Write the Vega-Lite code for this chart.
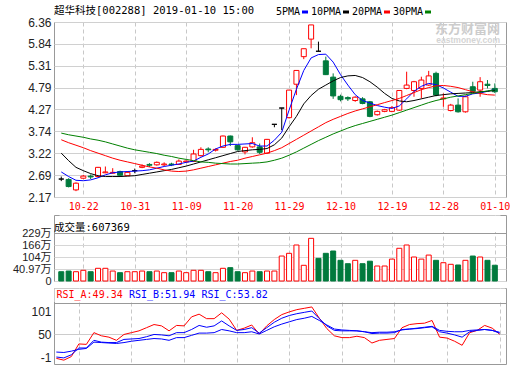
{
  "$schema": "https://vega.github.io/schema/vega-lite/v6.json",
  "padding": {"left": 11, "top": 5, "right": 0, "bottom": 0},
  "background": "white",
  "config": {
    "view": {"stroke": "#999999", "strokeWidth": 1},
    "axis": {"ticks": false, "domain": false, "labelFont": "Liberation Sans", "labelFontSize": 12, "labelColor": "#222222", "gridColor": "#d0d0d0", "gridWidth": 1, "labelOverlap": false, "labelFlush": false},
    "title": {"font": "DejaVu Sans Mono, Noto Sans CJK SC", "fontSize": 10.5, "fontWeight": "normal", "color": "#000000"}
  },
  "datasets": {
    "kline": [
      {"i":1,"d":"10-17","o":2.60,"h":2.66,"l":2.55,"c":2.60,"dir":"flat","vol":31.7,"vd":"down"},
      {"i":2,"d":"10-18","o":2.59,"h":2.62,"l":2.40,"c":2.42,"dir":"down","vol":34.0,"vd":"down"},
      {"i":3,"d":"10-19","o":2.34,"h":2.52,"l":2.31,"c":2.50,"dir":"up","vol":31.7,"vd":"up"},
      {"i":4,"d":"10-22","o":2.62,"h":2.70,"l":2.61,"c":2.67,"dir":"up","vol":36.5,"vd":"up"},
      {"i":5,"d":"10-23","o":2.67,"h":2.71,"l":2.60,"c":2.65,"dir":"down","vol":31.7,"vd":"down"},
      {"i":6,"d":"10-24","o":2.66,"h":2.89,"l":2.64,"c":2.88,"dir":"up","vol":44.6,"vd":"up"},
      {"i":7,"d":"10-25","o":2.75,"h":2.90,"l":2.74,"c":2.77,"dir":"up","vol":44.6,"vd":"up"},
      {"i":8,"d":"10-26","o":2.74,"h":2.86,"l":2.73,"c":2.76,"dir":"up","vol":34.0,"vd":"up"},
      {"i":9,"d":"10-29","o":2.78,"h":2.80,"l":2.67,"c":2.69,"dir":"down","vol":28.4,"vd":"down"},
      {"i":10,"d":"10-30","o":2.68,"h":2.79,"l":2.67,"c":2.76,"dir":"up","vol":31.7,"vd":"up"},
      {"i":11,"d":"10-31","o":2.80,"h":2.85,"l":2.74,"c":2.80,"dir":"flat","vol":31.7,"vd":"up"},
      {"i":12,"d":"11-01","o":2.88,"h":2.95,"l":2.86,"c":2.91,"dir":"up","vol":34.0,"vd":"up"},
      {"i":13,"d":"11-02","o":2.95,"h":2.98,"l":2.89,"c":2.93,"dir":"down","vol":31.7,"vd":"down"},
      {"i":14,"d":"11-05","o":2.94,"h":3.02,"l":2.92,"c":3.00,"dir":"up","vol":34.0,"vd":"up"},
      {"i":15,"d":"11-06","o":2.94,"h":3.00,"l":2.91,"c":2.96,"dir":"up","vol":28.4,"vd":"up"},
      {"i":16,"d":"11-07","o":2.96,"h":2.99,"l":2.91,"c":2.94,"dir":"down","vol":28.4,"vd":"down"},
      {"i":17,"d":"11-08","o":2.95,"h":3.07,"l":2.94,"c":3.03,"dir":"up","vol":34.0,"vd":"up"},
      {"i":18,"d":"11-09","o":3.01,"h":3.05,"l":2.99,"c":3.03,"dir":"up","vol":28.4,"vd":"up"},
      {"i":19,"d":"11-12","o":3.02,"h":3.30,"l":3.01,"c":3.20,"dir":"up","vol":36.5,"vd":"up"},
      {"i":20,"d":"11-13","o":3.16,"h":3.36,"l":3.14,"c":3.31,"dir":"up","vol":36.5,"vd":"up"},
      {"i":21,"d":"11-14","o":3.32,"h":3.36,"l":3.24,"c":3.30,"dir":"down","vol":31.7,"vd":"down"},
      {"i":22,"d":"11-15","o":3.29,"h":3.33,"l":3.26,"c":3.31,"dir":"up","vol":28.4,"vd":"up"},
      {"i":23,"d":"11-16","o":3.36,"h":3.64,"l":3.35,"c":3.63,"dir":"up","vol":44.6,"vd":"up"},
      {"i":24,"d":"11-19","o":3.63,"h":3.64,"l":3.39,"c":3.49,"dir":"down","vol":48.0,"vd":"down"},
      {"i":25,"d":"11-20","o":3.40,"h":3.42,"l":3.28,"c":3.30,"dir":"down","vol":31.7,"vd":"down"},
      {"i":26,"d":"11-21","o":3.25,"h":3.37,"l":3.19,"c":3.36,"dir":"up","vol":28.4,"vd":"up"},
      {"i":27,"d":"11-22","o":3.37,"h":3.60,"l":3.35,"c":3.47,"dir":"up","vol":34.0,"vd":"up"},
      {"i":28,"d":"11-23","o":3.37,"h":3.45,"l":3.20,"c":3.24,"dir":"down","vol":31.7,"vd":"down"},
      {"i":29,"d":"11-26","o":3.22,"h":3.56,"l":3.20,"c":3.55,"dir":"up","vol":34.0,"vd":"up"},
      {"i":30,"d":"11-27","o":3.91,"h":3.91,"l":3.84,"c":3.91,"dir":"flat","vol":34.0,"vd":"up"},
      {"i":31,"d":"11-28","o":4.30,"h":4.30,"l":3.77,"c":4.30,"dir":"flat","vol":109,"vd":"up"},
      {"i":32,"d":"11-29","o":4.07,"h":4.73,"l":4.05,"c":4.73,"dir":"up","vol":123,"vd":"up"},
      {"i":33,"d":"11-30","o":4.87,"h":5.20,"l":4.61,"c":5.20,"dir":"up","vol":166,"vd":"up"},
      {"i":34,"d":"12-03","o":5.53,"h":5.72,"l":5.47,"c":5.72,"dir":"up","vol":60.4,"vd":"up"},
      {"i":35,"d":"12-04","o":5.95,"h":6.29,"l":5.73,"c":6.29,"dir":"up","vol":201,"vd":"up"},
      {"i":36,"d":"12-05","o":5.66,"h":5.89,"l":5.66,"c":5.66,"dir":"flat","vol":97,"vd":"down"},
      {"i":37,"d":"12-06","o":5.43,"h":5.53,"l":5.09,"c":5.10,"dir":"down","vol":123,"vd":"down"},
      {"i":38,"d":"12-07","o":5.04,"h":5.13,"l":4.52,"c":4.59,"dir":"down","vol":135,"vd":"down"},
      {"i":39,"d":"12-10","o":4.58,"h":4.62,"l":4.46,"c":4.50,"dir":"down","vol":86.6,"vd":"down"},
      {"i":40,"d":"12-11","o":4.55,"h":4.58,"l":4.47,"c":4.52,"dir":"down","vol":68.8,"vd":"down"},
      {"i":41,"d":"12-12","o":4.48,"h":4.58,"l":4.45,"c":4.56,"dir":"up","vol":86.6,"vd":"up"},
      {"i":42,"d":"12-13","o":4.52,"h":4.56,"l":4.39,"c":4.41,"dir":"down","vol":68.8,"vd":"down"},
      {"i":43,"d":"12-14","o":4.45,"h":4.47,"l":4.08,"c":4.10,"dir":"down","vol":82,"vd":"down"},
      {"i":44,"d":"12-17","o":4.14,"h":4.24,"l":4.12,"c":4.22,"dir":"up","vol":56.7,"vd":"up"},
      {"i":45,"d":"12-18","o":4.22,"h":4.28,"l":4.20,"c":4.26,"dir":"up","vol":56.7,"vd":"up"},
      {"i":46,"d":"12-19","o":4.22,"h":4.35,"l":4.20,"c":4.31,"dir":"up","vol":93,"vd":"up"},
      {"i":47,"d":"12-20","o":4.25,"h":4.73,"l":4.23,"c":4.72,"dir":"up","vol":149,"vd":"up"},
      {"i":48,"d":"12-21","o":4.77,"h":5.17,"l":4.75,"c":4.85,"dir":"up","vol":166,"vd":"up"},
      {"i":49,"d":"12-24","o":4.72,"h":4.95,"l":4.57,"c":4.93,"dir":"up","vol":104,"vd":"up"},
      {"i":50,"d":"12-25","o":4.77,"h":5.05,"l":4.53,"c":4.97,"dir":"up","vol":93,"vd":"up"},
      {"i":51,"d":"12-26","o":4.85,"h":5.19,"l":4.83,"c":5.07,"dir":"up","vol":114,"vd":"up"},
      {"i":52,"d":"12-27","o":5.13,"h":5.17,"l":4.58,"c":4.61,"dir":"down","vol":86.6,"vd":"down"},
      {"i":53,"d":"12-28","o":4.52,"h":4.65,"l":4.33,"c":4.54,"dir":"up","vol":74,"vd":"up"},
      {"i":54,"d":"01-02","o":4.24,"h":4.40,"l":4.22,"c":4.37,"dir":"up","vol":65.6,"vd":"up"},
      {"i":55,"d":"01-03","o":4.37,"h":4.53,"l":4.19,"c":4.21,"dir":"down","vol":62,"vd":"down"},
      {"i":56,"d":"01-04","o":4.21,"h":4.60,"l":4.19,"c":4.57,"dir":"up","vol":86.6,"vd":"up"},
      {"i":57,"d":"01-07","o":4.81,"h":4.93,"l":4.68,"c":4.70,"dir":"down","vol":109,"vd":"down"},
      {"i":58,"d":"01-08","o":4.73,"h":5.04,"l":4.57,"c":4.93,"dir":"up","vol":104,"vd":"up"},
      {"i":59,"d":"01-09","o":4.87,"h":4.97,"l":4.77,"c":4.84,"dir":"down","vol":86.6,"vd":"down"},
      {"i":60,"d":"01-10","o":4.77,"h":4.89,"l":4.66,"c":4.69,"dir":"down","vol":60.7,"vd":"down"}
    ],
    "ma": [
      {"i":1,"5PMA":2.77,"10PMA":3.22,"20PMA":3.54,"30PMA":3.70},
      {"i":2,"5PMA":2.66,"10PMA":3.04,"20PMA":3.47,"30PMA":3.66},
      {"i":3,"5PMA":2.57,"10PMA":2.88,"20PMA":3.41,"30PMA":3.63},
      {"i":4,"5PMA":2.56,"10PMA":2.80,"20PMA":3.35,"30PMA":3.60},
      {"i":5,"5PMA":2.58,"10PMA":2.73,"20PMA":3.28,"30PMA":3.56},
      {"i":6,"5PMA":2.63,"10PMA":2.68,"20PMA":3.22,"30PMA":3.53},
      {"i":7,"5PMA":2.70,"10PMA":2.66,"20PMA":3.16,"30PMA":3.49},
      {"i":8,"5PMA":2.75,"10PMA":2.66,"20PMA":3.10,"30PMA":3.44},
      {"i":9,"5PMA":2.77,"10PMA":2.66,"20PMA":3.05,"30PMA":3.39},
      {"i":10,"5PMA":2.78,"10PMA":2.67,"20PMA":3.01,"30PMA":3.34},
      {"i":11,"5PMA":2.79,"10PMA":2.68,"20PMA":2.97,"30PMA":3.30},
      {"i":12,"5PMA":2.80,"10PMA":2.71,"20PMA":2.93,"30PMA":3.27},
      {"i":13,"5PMA":2.82,"10PMA":2.74,"20PMA":2.89,"30PMA":3.24},
      {"i":14,"5PMA":2.86,"10PMA":2.77,"20PMA":2.86,"30PMA":3.21},
      {"i":15,"5PMA":2.90,"10PMA":2.80,"20PMA":2.82,"30PMA":3.17},
      {"i":16,"5PMA":2.93,"10PMA":2.83,"20PMA":2.79,"30PMA":3.14},
      {"i":17,"5PMA":2.96,"10PMA":2.87,"20PMA":2.78,"30PMA":3.10},
      {"i":18,"5PMA":3.00,"10PMA":2.91,"20PMA":2.79,"30PMA":3.07},
      {"i":19,"5PMA":3.03,"10PMA":2.96,"20PMA":2.82,"30PMA":3.04},
      {"i":20,"5PMA":3.12,"10PMA":3.01,"20PMA":2.86,"30PMA":3.01},
      {"i":21,"5PMA":3.20,"10PMA":3.06,"20PMA":2.90,"30PMA":3.00},
      {"i":22,"5PMA":3.32,"10PMA":3.11,"20PMA":2.94,"30PMA":2.98},
      {"i":23,"5PMA":3.39,"10PMA":3.16,"20PMA":2.98,"30PMA":2.97},
      {"i":24,"5PMA":3.43,"10PMA":3.21,"20PMA":3.02,"30PMA":2.96},
      {"i":25,"5PMA":3.43,"10PMA":3.26,"20PMA":3.05,"30PMA":2.96},
      {"i":26,"5PMA":3.44,"10PMA":3.28,"20PMA":3.10,"30PMA":2.97},
      {"i":27,"5PMA":3.45,"10PMA":3.30,"20PMA":3.14,"30PMA":2.98},
      {"i":28,"5PMA":3.39,"10PMA":3.31,"20PMA":3.18,"30PMA":2.99},
      {"i":29,"5PMA":3.39,"10PMA":3.33,"20PMA":3.22,"30PMA":3.01},
      {"i":30,"5PMA":3.53,"10PMA":3.42,"20PMA":3.28,"30PMA":3.05},
      {"i":31,"5PMA":3.72,"10PMA":3.58,"20PMA":3.35,"30PMA":3.10},
      {"i":32,"5PMA":4.25,"10PMA":3.85,"20PMA":3.45,"30PMA":3.17},
      {"i":33,"5PMA":4.75,"10PMA":4.10,"20PMA":3.55,"30PMA":3.25},
      {"i":34,"5PMA":5.20,"10PMA":4.40,"20PMA":3.65,"30PMA":3.34},
      {"i":35,"5PMA":5.50,"10PMA":4.60,"20PMA":3.75,"30PMA":3.43},
      {"i":36,"5PMA":5.58,"10PMA":4.75,"20PMA":3.85,"30PMA":3.52},
      {"i":37,"5PMA":5.59,"10PMA":4.85,"20PMA":3.95,"30PMA":3.60},
      {"i":38,"5PMA":5.40,"10PMA":4.95,"20PMA":4.03,"30PMA":3.68},
      {"i":39,"5PMA":5.10,"10PMA":5.03,"20PMA":4.10,"30PMA":3.75},
      {"i":40,"5PMA":4.85,"10PMA":5.07,"20PMA":4.17,"30PMA":3.82},
      {"i":41,"5PMA":4.62,"10PMA":5.08,"20PMA":4.23,"30PMA":3.88},
      {"i":42,"5PMA":4.48,"10PMA":5.03,"20PMA":4.28,"30PMA":3.93},
      {"i":43,"5PMA":4.42,"10PMA":4.93,"20PMA":4.33,"30PMA":3.98},
      {"i":44,"5PMA":4.36,"10PMA":4.80,"20PMA":4.38,"30PMA":4.03},
      {"i":45,"5PMA":4.32,"10PMA":4.65,"20PMA":4.43,"30PMA":4.08},
      {"i":46,"5PMA":4.29,"10PMA":4.53,"20PMA":4.48,"30PMA":4.13},
      {"i":47,"5PMA":4.35,"10PMA":4.47,"20PMA":4.53,"30PMA":4.19},
      {"i":48,"5PMA":4.52,"10PMA":4.45,"20PMA":4.60,"30PMA":4.25},
      {"i":49,"5PMA":4.70,"10PMA":4.48,"20PMA":4.67,"30PMA":4.31},
      {"i":50,"5PMA":4.82,"10PMA":4.52,"20PMA":4.74,"30PMA":4.37},
      {"i":51,"5PMA":4.89,"10PMA":4.56,"20PMA":4.79,"30PMA":4.43},
      {"i":52,"5PMA":4.86,"10PMA":4.60,"20PMA":4.83,"30PMA":4.48},
      {"i":53,"5PMA":4.78,"10PMA":4.62,"20PMA":4.84,"30PMA":4.52},
      {"i":54,"5PMA":4.68,"10PMA":4.64,"20PMA":4.82,"30PMA":4.56},
      {"i":55,"5PMA":4.58,"10PMA":4.65,"20PMA":4.79,"30PMA":4.59},
      {"i":56,"5PMA":4.58,"10PMA":4.66,"20PMA":4.74,"30PMA":4.62},
      {"i":57,"5PMA":4.64,"10PMA":4.67,"20PMA":4.69,"30PMA":4.65},
      {"i":58,"5PMA":4.66,"10PMA":4.69,"20PMA":4.65,"30PMA":4.68},
      {"i":59,"5PMA":4.70,"10PMA":4.70,"20PMA":4.62,"30PMA":4.71},
      {"i":60,"5PMA":4.75,"10PMA":4.72,"20PMA":4.61,"30PMA":4.74}
    ],
    "rsi": [
      {"i":1,"RSI_A":-4,"RSI_B":-1,"RSI_C":10},
      {"i":2,"RSI_A":-8,"RSI_B":-3,"RSI_C":9},
      {"i":3,"RSI_A":0,"RSI_B":4,"RSI_C":12},
      {"i":4,"RSI_A":28,"RSI_B":19,"RSI_C":16},
      {"i":5,"RSI_A":27,"RSI_B":19,"RSI_C":18},
      {"i":6,"RSI_A":53,"RSI_B":36,"RSI_C":32},
      {"i":7,"RSI_A":46,"RSI_B":32,"RSI_C":31},
      {"i":8,"RSI_A":43,"RSI_B":31,"RSI_C":30},
      {"i":9,"RSI_A":36,"RSI_B":31,"RSI_C":29},
      {"i":10,"RSI_A":49,"RSI_B":38,"RSI_C":31},
      {"i":11,"RSI_A":53,"RSI_B":39,"RSI_C":34},
      {"i":12,"RSI_A":57,"RSI_B":40,"RSI_C":36},
      {"i":13,"RSI_A":64,"RSI_B":44,"RSI_C":38},
      {"i":14,"RSI_A":71,"RSI_B":49,"RSI_C":40},
      {"i":15,"RSI_A":68,"RSI_B":48,"RSI_C":39},
      {"i":16,"RSI_A":57,"RSI_B":46,"RSI_C":36},
      {"i":17,"RSI_A":69,"RSI_B":53,"RSI_C":42},
      {"i":18,"RSI_A":68,"RSI_B":53,"RSI_C":42},
      {"i":19,"RSI_A":88,"RSI_B":60,"RSI_C":47},
      {"i":20,"RSI_A":94,"RSI_B":69,"RSI_C":52},
      {"i":21,"RSI_A":84,"RSI_B":65,"RSI_C":52},
      {"i":22,"RSI_A":84,"RSI_B":68,"RSI_C":53},
      {"i":23,"RSI_A":97,"RSI_B":79,"RSI_C":60},
      {"i":24,"RSI_A":83,"RSI_B":68,"RSI_C":57},
      {"i":25,"RSI_A":58,"RSI_B":58,"RSI_C":53},
      {"i":26,"RSI_A":63,"RSI_B":60,"RSI_C":53},
      {"i":27,"RSI_A":70,"RSI_B":64,"RSI_C":55},
      {"i":28,"RSI_A":50,"RSI_B":52,"RSI_C":50},
      {"i":29,"RSI_A":68,"RSI_B":64,"RSI_C":58},
      {"i":30,"RSI_A":82,"RSI_B":76,"RSI_C":66},
      {"i":31,"RSI_A":93,"RSI_B":85,"RSI_C":72},
      {"i":32,"RSI_A":99,"RSI_B":91,"RSI_C":77},
      {"i":33,"RSI_A":104,"RSI_B":95,"RSI_C":82},
      {"i":34,"RSI_A":107,"RSI_B":98,"RSI_C":85},
      {"i":35,"RSI_A":110,"RSI_B":101,"RSI_C":89},
      {"i":36,"RSI_A":85,"RSI_B":84,"RSI_C":80},
      {"i":37,"RSI_A":62,"RSI_B":68,"RSI_C":70},
      {"i":38,"RSI_A":46,"RSI_B":58,"RSI_C":61},
      {"i":39,"RSI_A":42,"RSI_B":57,"RSI_C":59},
      {"i":40,"RSI_A":42,"RSI_B":57,"RSI_C":58},
      {"i":41,"RSI_A":45,"RSI_B":57,"RSI_C":57},
      {"i":42,"RSI_A":42,"RSI_B":55,"RSI_C":55},
      {"i":43,"RSI_A":30,"RSI_B":51,"RSI_C":53},
      {"i":44,"RSI_A":36,"RSI_B":52,"RSI_C":54},
      {"i":45,"RSI_A":38,"RSI_B":52,"RSI_C":54},
      {"i":46,"RSI_A":40,"RSI_B":53,"RSI_C":55},
      {"i":47,"RSI_A":64,"RSI_B":60,"RSI_C":59},
      {"i":48,"RSI_A":71,"RSI_B":61,"RSI_C":61},
      {"i":49,"RSI_A":73,"RSI_B":62,"RSI_C":63},
      {"i":50,"RSI_A":74,"RSI_B":64,"RSI_C":65},
      {"i":51,"RSI_A":80,"RSI_B":66,"RSI_C":67},
      {"i":52,"RSI_A":43,"RSI_B":55,"RSI_C":58},
      {"i":53,"RSI_A":41,"RSI_B":52,"RSI_C":56},
      {"i":54,"RSI_A":34,"RSI_B":48,"RSI_C":55},
      {"i":55,"RSI_A":25,"RSI_B":43,"RSI_C":55},
      {"i":56,"RSI_A":53,"RSI_B":55,"RSI_C":58},
      {"i":57,"RSI_A":58,"RSI_B":58,"RSI_C":59},
      {"i":58,"RSI_A":69,"RSI_B":60,"RSI_C":60},
      {"i":59,"RSI_A":63,"RSI_B":58,"RSI_C":58},
      {"i":60,"RSI_A":49.34,"RSI_B":51.94,"RSI_C":53.82}
    ]
  },
  "spacing": 2,
  "resolve": {"scale": {"color": "independent", "x": "independent", "y": "independent"}, "legend": {"color": "independent"}},
  "vconcat": [
    {
      "width": 452,
      "height": 175,
      "title": {"text": "超华科技[002288] 2019-01-10 15:00", "anchor": "start", "frame": "group", "baseline": "alphabetic", "offset": -17},
      "layer": [
        {
          "data": {"name": "kline"},
          "mark": {"type": "rule", "strokeWidth": 1},
          "encoding": {
            "x": {"field": "i", "type": "quantitative", "scale": {"domain": [0.69, 60.84], "nice": false, "zero": false},
                  "axis": {"title": null, "values": [4, 11, 18, 25, 32, 39, 46, 53, 60], "tickCount": 60, "labelExpr": "['10-22','10-31','11-09','11-20','11-29','12-10','12-19','12-28','01-10'][(datum.value-4)/7]", "labelFont": "DejaVu Sans Mono", "labelFontSize": 10, "labelColor": "#ff0000", "labelPadding": 4, "labelOverlap": false, "labelFlush": false, "grid": true, "gridDash": [4, 3], "gridColor": "#c8c8c8"}},
            "y": {"field": "l", "type": "quantitative", "scale": {"domain": [2.17, 6.36], "nice": false, "zero": false},
                  "axis": {"title": null, "values": [2.17, 2.69, 3.22, 3.74, 4.27, 4.79, 5.31, 5.84, 6.36], "tickCount": 50, "format": ".2f", "labelPadding": 3, "labelOverlap": false, "grid": true, "gridColor": "#d0d0d0"}},
            "y2": {"field": "h"},
            "color": {"condition": [{"test": "datum.dir == 'up'", "value": "#ff0000"}, {"test": "datum.dir == 'flat'", "value": "#000000"}], "value": "#007a3d"}
          }
        },
        {
          "data": {"values": [{}]},
          "mark": {"type": "text", "align": "right", "baseline": "middle", "font": "Noto Sans CJK SC", "fontSize": 13, "fontWeight": "bold", "color": "#cccccc"},
          "encoding": {"x": {"datum": 60.7}, "y": {"datum": 6.2}, "text": {"value": "东方财富网"}}
        },
        {
          "data": {"values": [{}]},
          "mark": {"type": "text", "align": "right", "baseline": "middle", "font": "Liberation Sans", "fontSize": 8.5, "fontWeight": "bold", "color": "#d4d4d4"},
          "encoding": {"x": {"datum": 60.7}, "y": {"datum": 5.92}, "text": {"value": "eastmoney.com"}}
        },
        {
          "data": {"name": "kline"},
          "mark": {"type": "bar", "width": 5, "strokeWidth": 1},
          "encoding": {
            "x": {"field": "i", "type": "quantitative"},
            "y": {"field": "o", "type": "quantitative"},
            "y2": {"field": "c"},
            "fill": {"condition": [{"test": "datum.dir == 'up'", "value": "#ffffff"}, {"test": "datum.dir == 'flat'", "value": "#000000"}], "value": "#007a3d"},
            "stroke": {"condition": [{"test": "datum.dir == 'up'", "value": "#ff0000"}, {"test": "datum.dir == 'flat'", "value": "#000000"}], "value": "#007a3d"}
          }
        },
        {
          "data": {"name": "ma"},
          "transform": [{"fold": ["5PMA", "10PMA", "20PMA", "30PMA"], "as": ["m", "v"]}],
          "mark": {"type": "line", "strokeWidth": 1},
          "encoding": {
            "x": {"field": "i", "type": "quantitative"},
            "y": {"field": "v", "type": "quantitative"},
            "color": {"field": "m", "type": "nominal",
                      "scale": {"domain": ["5PMA", "10PMA", "20PMA", "30PMA"], "range": ["#0000ff", "#000000", "#ff0000", "#008000"]},
                      "legend": {"orient": "none", "legendX": 246, "legendY": -15, "direction": "horizontal", "title": null, "labelFont": "DejaVu Sans Mono", "labelFontSize": 10, "labelColor": "#000000", "symbolType": "stroke", "symbolSize": 36, "symbolStrokeWidth": 3, "labelAlign": "right", "labelOffset": -10, "columnPadding": -4, "padding": 0}}
          }
        }
      ]
    },
    {
      "spacing": 0,
      "resolve": {"scale": {"color": "independent", "x": "independent", "y": "independent"}, "legend": {"color": "independent"}},
      "vconcat": [
        {
          "width": 452,
          "height": 66,
          "title": {"text": "成交量:607369", "anchor": "start", "frame": "group", "baseline": "alphabetic", "offset": -26},
          "layer": [
            {
              "data": {"values": [{}]},
              "mark": {"type": "rect", "fill": "#ffffff"},
              "encoding": {"x": {"datum": 0.76}, "x2": {"datum": 60.77}, "y": {"datum": 234.5}, "y2": {"datum": 321}}
            },
            {
              "data": {"name": "kline"},
              "mark": {"type": "bar", "width": 5, "strokeWidth": 1},
              "encoding": {
                "x": {"field": "i", "type": "quantitative", "scale": {"domain": [0.69, 60.84], "nice": false, "zero": false},
                      "axis": {"title": null, "values": [4, 11, 18, 25, 32, 39, 46, 53, 60], "tickCount": 60, "labels": false, "grid": true, "gridDash": [4, 3], "gridColor": "#c8c8c8"}},
                "y": {"field": "vol", "type": "quantitative", "scale": {"domain": [0, 40.97, 104, 166, 229, 323.5], "range": [66, 54, 42, 30, 18, 0], "nice": false, "zero": false},
                      "axis": {"title": null, "values": [0, 40.97, 104, 166, 229], "tickCount": 50, "labelExpr": "datum.value == 0 ? '0' : datum.value + '万'", "labelFont": "Liberation Sans, Noto Sans CJK SC", "labelFontSize": 11, "labelPadding": 3, "labelOverlap": false, "grid": true, "gridColor": {"condition": {"test": "datum.value == 229", "value": "#999999"}, "value": "#d6d6d6"}}},
                "fill": {"condition": {"test": "datum.vd == 'up'", "value": "#ffffff"}, "value": "#007a3d"},
                "stroke": {"condition": {"test": "datum.vd == 'up'", "value": "#ff0000"}, "value": "#007a3d"}
              }
            }
          ]
        },
        {
          "width": 452,
          "height": 76,
          "layer": [
            {
              "data": {"values": [{}]},
              "mark": {"type": "rect", "fill": "#ffffff"},
              "encoding": {"x": {"datum": 0.76}, "x2": {"datum": 60.77}, "y": {"datum": 121}, "y2": {"datum": 150.9}}
            },
            {
              "data": {"name": "rsi"},
              "transform": [{"fold": ["RSI_A", "RSI_B", "RSI_C"], "as": ["s", "r"]}],
              "mark": {"type": "line", "strokeWidth": 1},
              "encoding": {
                "x": {"field": "i", "type": "quantitative", "scale": {"domain": [0.69, 60.84], "nice": false, "zero": false},
                      "axis": {"title": null, "values": [4, 11, 18, 25, 32, 39, 46, 53, 60], "tickCount": 60, "labels": false, "grid": true, "gridDash": [4, 3], "gridColor": "#c8c8c8"}},
                "y": {"field": "r", "type": "quantitative", "scale": {"domain": [-16.5, 152], "nice": false, "zero": false},
                      "axis": {"title": null, "values": [-1, 50, 101, 118.7], "tickCount": 50, "labelExpr": "datum.value > 110 ? '' : datum.value + ''", "labelPadding": 3, "labelOverlap": false, "grid": true,
                               "gridColor": {"condition": {"test": "datum.value == 50", "value": "#cccccc"}, "value": "#999999"},
                               "gridOpacity": {"condition": {"test": "datum.value == 50 || datum.value > 110", "value": 1}, "value": 0}}},
                "color": {"field": "s", "type": "nominal",
                          "scale": {"domain": ["RSI_A", "RSI_B", "RSI_C"], "range": ["#ff0000", "#0000ff", "#0000ff"]},
                          "legend": {"orient": "top-left", "offset": 2, "direction": "horizontal", "title": null, "symbolSize": 0, "symbolOpacity": 0, "symbolStrokeWidth": 0, "labelOffset": -9.5, "labelFont": "DejaVu Sans Mono", "labelFontSize": 10, "padding": 0, "columnPadding": 5.5,
                                     "labelExpr": "datum.value == 'RSI_A' ? 'RSI_A:49.34' : datum.value == 'RSI_B' ? 'RSI_B:51.94' : 'RSI_C:53.82'",
                                     "labelColor": {"expr": "datum.value == 'RSI_A' ? '#ff0000' : '#0000ff'"}}}
              }
            }
          ]
        }
      ]
    }
  ]
}
